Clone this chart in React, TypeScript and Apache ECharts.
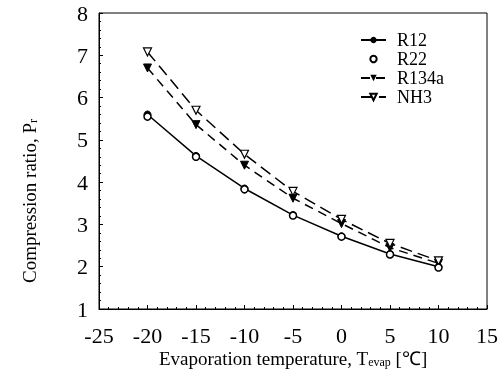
import React, { useEffect, useRef } from "react";
import * as echarts from "echarts";

const temps = [-20, -15, -10, -5, 0, 5, 10];
const r12 = [5.6, 4.62, 3.85, 3.22, 2.72, 2.3, 2.0];
const r22 = [5.55, 4.6, 3.83, 3.21, 2.71, 2.29, 1.98];
const r134a = [6.7, 5.36, 4.4, 3.62, 3.02, 2.45, 2.08];
const nh3 = [7.08, 5.7, 4.66, 3.78, 3.12, 2.55, 2.14];

const pairs = (ys: number[]) => temps.map((t, i) => [t, ys[i]]);

export default function App() {
  const ref = useRef<HTMLDivElement>(null);
  useEffect(() => {
    if (!ref.current) return;
    const chart = echarts.init(ref.current, null, { renderer: "svg" });
    const font = "Liberation Serif";
    const nameRich = {
      m: { fontFamily: font, fontSize: 19, color: "#000" },
      sub: { fontFamily: font, fontSize: 12, color: "#000", verticalAlign: "bottom", padding: [6, 0, 0, 0] },
    };
    chart.setOption({
      animation: false,
      textStyle: { fontFamily: font, color: "#000" },
      grid: {
        left: 99,
        right: 11,
        top: 13,
        bottom: 68,
        show: true,
        borderColor: "#000",
        borderWidth: 1,
      },
      legend: {
        left: 355,
        top: 26,
        orient: "vertical",
        itemWidth: 25,
        itemHeight: 8,
        itemGap: 1,
        textStyle: { fontFamily: font, fontSize: 18, color: "#000", padding: [0, 0, 0, 6] },
        data: ["R12", "R22", "R134a", "NH3"],
      },
      xAxis: {
        type: "value",
        min: -25,
        max: 15,
        interval: 5,
        axisLine: { onZero: false, lineStyle: { color: "#000" } },
        axisTick: { inside: true, length: 4, lineStyle: { color: "#000" } },
        minorTick: { show: true, splitNumber: 5, length: 2, lineStyle: { color: "#000" } },
        splitLine: { show: false },
        axisLabel: { margin: 15, fontFamily: font, fontSize: 22, color: "#000" },
        name: "{m|Evaporation temperature, T}{sub|evap}{m| [℃]}",
        nameLocation: "middle",
        nameGap: 40,
        nameMoveOverlap: false,
        nameTextStyle: { fontFamily: font, fontSize: 19, color: "#000", rich: nameRich },
      },
      yAxis: {
        type: "value",
        min: 1,
        max: 8,
        interval: 1,
        axisLine: { onZero: false, lineStyle: { color: "#000" } },
        axisTick: { inside: true, length: 4, lineStyle: { color: "#000" } },
        minorTick: { show: true, splitNumber: 5, length: 2, lineStyle: { color: "#000" } },
        splitLine: { show: false },
        axisLabel: { margin: 11, fontFamily: font, fontSize: 22, color: "#000" },
        name: "{m|Compression ratio, P}{sub|r}",
        nameLocation: "middle",
        nameGap: 60,
        nameMoveOverlap: false,
        nameTextStyle: {
          fontFamily: font,
          fontSize: 19,
          color: "#000",
          rich: nameRich,
          padding: [0, 80, 0, 0],
        },
      },
      series: [
        {
          name: "R12",
          type: "line",
          data: pairs(r12),
          symbol: "circle",
          symbolSize: 7,
          lineStyle: { color: "#000", width: 1.5 },
          itemStyle: { color: "#000", borderColor: "#000" },
        },
        {
          name: "R22",
          type: "line",
          data: pairs(r22),
          symbol: "circle",
          symbolSize: 7,
          lineStyle: { width: 0, color: "#000" },
          itemStyle: { color: "#fff", borderColor: "#000", borderWidth: 1.5 },
          z: 5,
        },
        {
          name: "R134a",
          type: "line",
          data: pairs(r134a),
          symbol: "triangle",
          symbolRotate: 180,
          symbolSize: 8,
          lineStyle: { color: "#000", width: 1.5, type: [9, 6] },
          itemStyle: { color: "#000", borderColor: "#000" },
        },
        {
          name: "NH3",
          type: "line",
          data: pairs(nh3),
          symbol: "triangle",
          symbolRotate: 180,
          symbolSize: 8,
          lineStyle: { color: "#000", width: 1.5, type: [12, 6] },
          itemStyle: { color: "#fff", borderColor: "#000", borderWidth: 1.2 },
        },
      ],
    });
    return () => chart.dispose();
  }, []);
  return (
    <div
      ref={ref}
      style={{ position: "fixed", left: 0, top: 0, width: 501, height: 377 }}
    />
  );
}
